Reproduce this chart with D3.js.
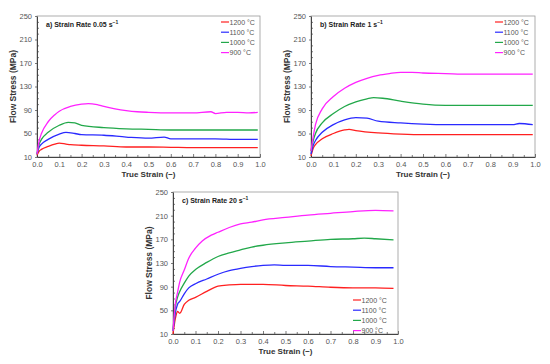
<!DOCTYPE html>
<html><head><meta charset="utf-8">
<script src="https://cdn.jsdelivr.net/npm/d3@7"></script>
<style>body{margin:0;background:#fff}svg{display:block}</style>
</head><body>
<svg id="c" width="550" height="364"></svg>
<script>
// ---------- DATA ----------
const temps = ["1200 °C", "1100 °C", "1000 °C", "900 °C"];
const colors = ["#ff2020", "#2a2aff", "#22a84a", "#ff22ff"];
const xTicks = [0.0, 0.1, 0.2, 0.3, 0.4, 0.5, 0.6, 0.7, 0.8, 0.9, 1.0];
const yTicks = [10, 50, 90, 130, 170, 210, 250];

// Panel a) 0.05 s-1 : [strain, stress]
const a1200 = [[0,13],[0.01,20],[0.02,23],[0.05,28],[0.08,32],[0.1,33.5],[0.13,32],[0.15,31],[0.2,30],[0.3,29],[0.4,27],[0.5,27],[0.6,26.5],[0.7,26],[0.8,26],[0.9,26],[0.99,26]];
const a1100 = [[0,15],[0.01,27],[0.02,32],[0.05,40],[0.1,49],[0.13,52],[0.17,50],[0.2,48],[0.3,47],[0.4,44],[0.5,42],[0.57,44],[0.6,41],[0.7,41],[0.8,41],[0.9,40],[0.99,40]];
const a1000 = [[0,15],[0.01,32],[0.02,40],[0.05,52],[0.1,64],[0.14,69],[0.17,68],[0.2,64],[0.3,60],[0.4,58],[0.5,57],[0.6,56],[0.7,56],[0.8,56],[0.9,56],[0.99,56]];
const a900  = [[0,15],[0.01,38],[0.02,50],[0.05,70],[0.08,82],[0.1,88],[0.15,96],[0.2,100],[0.23,101],[0.27,99],[0.3,96],[0.35,92],[0.4,89],[0.45,87],[0.5,86],[0.6,85],[0.7,85],[0.78,87],[0.8,84],[0.85,86],[0.9,86],[0.95,85],[0.99,86]];

// Panel b) 1 s-1
const b1200 = [[0,12],[0.01,25],[0.02,31],[0.05,41],[0.1,50],[0.15,56],[0.17,57],[0.2,55],[0.3,51],[0.4,49],[0.5,48],[0.6,48],[0.7,48],[0.8,48],[0.9,48],[0.99,48]];
const b1100 = [[0,15],[0.01,30],[0.02,38],[0.05,52],[0.1,65],[0.15,73],[0.2,77],[0.25,76],[0.3,71],[0.4,68],[0.5,66],[0.6,65],[0.7,65],[0.8,65],[0.9,65],[0.93,67],[0.99,65]];
const b1000 = [[0,20],[0.01,38],[0.02,50],[0.05,68],[0.1,84],[0.15,96],[0.2,104],[0.25,109],[0.28,111],[0.32,110],[0.4,105],[0.5,100],[0.6,98],[0.7,98],[0.8,98],[0.9,98],[0.99,98]];
const b900  = [[0,20],[0.01,45],[0.02,65],[0.05,92],[0.1,113],[0.15,127],[0.2,137],[0.25,144],[0.3,149],[0.35,152],[0.4,154],[0.45,154],[0.5,153],[0.6,152],[0.7,151],[0.8,151],[0.9,151],[0.99,151]];

// Panel c) 20 s-1
const c1200 = [[0,10],[0.01,35],[0.02,48],[0.03,45],[0.05,60],[0.07,67],[0.1,72],[0.15,82],[0.2,91],[0.25,93],[0.3,94],[0.4,94],[0.5,92],[0.6,91],[0.7,89],[0.8,88],[0.9,88],[0.98,87]];
const c1100 = [[0,15],[0.01,45],[0.02,60],[0.03,65],[0.05,78],[0.07,88],[0.1,95],[0.15,103],[0.2,111],[0.25,117],[0.3,121],[0.35,124],[0.4,126],[0.45,127],[0.5,126],[0.6,126],[0.7,124],[0.8,123],[0.9,122],[0.98,122]];
const c1000 = [[0,15],[0.01,55],[0.02,72],[0.03,82],[0.05,96],[0.07,108],[0.1,119],[0.15,131],[0.2,141],[0.25,147],[0.3,152],[0.35,157],[0.4,160],[0.5,164],[0.6,167],[0.7,170],[0.8,171],[0.85,172],[0.9,171],[0.98,169]];
const c900  = [[0,15],[0.01,60],[0.02,80],[0.03,98],[0.05,118],[0.07,138],[0.1,155],[0.13,167],[0.17,177],[0.2,182],[0.25,190],[0.3,196],[0.35,199],[0.4,203],[0.5,207],[0.6,211],[0.7,214],[0.8,217],[0.9,219],[0.98,218]];

const panels = [
  {title:"a) Strain Rate 0.05 s", series:[a1200,a1100,a1000,a900], box:{l:37,r:260,t:16,b:157}, legend:{dx:184,y0:22}},
  {title:"b) Strain Rate 1 s", series:[b1200,b1100,b1000,b900], box:{l:311,r:535,t:16,b:157}, legend:{dx:184,y0:22}},
  {title:"c) Strain Rate 20 s", series:[c1200,c1100,c1000,c900], box:{l:173,r:398,t:192,b:334}, legend:{dx:180,y0:300}}
];

// ---------- DRAW ----------
const svg = d3.select("#c");
const font = "Liberation Sans, Arial, sans-serif";

panels.forEach(p => {
  const B = p.box;
  const x = d3.scaleLinear().domain([0,1]).range([B.l,B.r]);
  const y = d3.scaleLinear().domain([10,250]).range([B.b,B.t]);
  const g = svg.append("g");

  // frame
  g.append("rect").attr("x",B.l).attr("y",B.t).attr("width",B.r-B.l).attr("height",B.b-B.t)
    .attr("fill","none").attr("stroke","#9a9a9a").attr("stroke-width",0.8);

  // axes
  const xAx = g.append("g").attr("transform",`translate(0,${B.b})`)
    .call(d3.axisBottom(x).tickValues(xTicks).tickFormat(d3.format(".1f")).tickSizeInner(-3).tickSizeOuter(0).tickPadding(5));
  g.append("g").attr("transform",`translate(0,${B.b})`)
    .call(d3.axisBottom(x).tickValues(d3.range(0.05,1,0.1)).tickFormat("").tickSizeInner(-2).tickSizeOuter(0))
    .call(s=>s.select(".domain").remove());
  const yAx = g.append("g").attr("transform",`translate(${B.l},0)`)
    .call(d3.axisLeft(y).tickValues(yTicks).tickSizeInner(2).tickSizeOuter(0).tickPadding(3));
  g.append("g").attr("transform",`translate(${B.l},0)`)
    .call(d3.axisLeft(y).tickValues(d3.range(20,250,10).filter(v=>(v-10)%40!==0)).tickFormat("").tickSizeInner(-2).tickSizeOuter(0))
    .call(s=>s.select(".domain").remove());
  [xAx,yAx].forEach(a=>{
    a.select(".domain").attr("stroke","#333").attr("stroke-width",0.9);
    a.selectAll("text").attr("font-family",font).attr("font-size",7.5).attr("fill","#555");
  });
  g.selectAll(".tick line").attr("stroke","#444").attr("stroke-width",0.7);

  // lines
  const line = d3.line().x(d=>x(d[0])).y(d=>y(d[1])).curve(d3.curveMonotoneX);
  p.series.forEach((s,i)=>{
    g.append("path").datum(s).attr("d",line).attr("fill","none")
      .attr("stroke",colors[i]).attr("stroke-width",1.3);
  });

  // title
  const t = g.append("text").attr("x",B.l+9).attr("y",B.t+10.5)
    .attr("font-family",font).attr("font-size",7).attr("font-weight","bold").attr("fill","#222");
  t.append("tspan").text(p.title);
  t.append("tspan").attr("dy",-2.5).attr("font-size",5).text("−1");

  // axis titles
  g.append("text").attr("x",(B.l+B.r)/2).attr("y",B.b+20).attr("text-anchor","middle")
    .attr("font-family",font).attr("font-size",8).attr("font-weight","bold").attr("fill","#333")
    .text("True Strain (−)");
  g.append("text").attr("transform",`translate(${B.l-21},${(B.t+B.b)/2}) rotate(-90)`).attr("text-anchor","middle")
    .attr("font-family",font).attr("font-size",8.5).attr("font-weight","bold").attr("fill","#333")
    .text("Flow Stress (MPa)");

  // legend
  temps.forEach((name,i)=>{
    const ly = p.legend.y0 + i*10.2;
    const lx = B.l + p.legend.dx;
    g.append("line").attr("x1",lx).attr("x2",lx+8).attr("y1",ly).attr("y2",ly)
      .attr("stroke",colors[i]).attr("stroke-width",1.2);
    g.append("text").attr("x",lx+8.5).attr("y",ly+2.5).attr("font-family",font).attr("font-size",7)
      .attr("fill","#555").text(name);
  });
});
</script>
</body></html>
